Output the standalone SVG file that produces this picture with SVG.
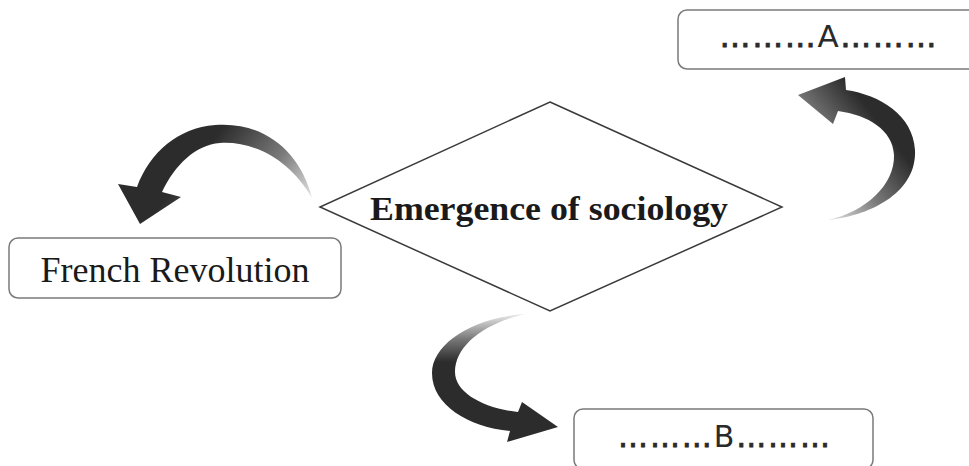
<svg xmlns="http://www.w3.org/2000/svg" width="969" height="466" viewBox="0 0 969 466">
  <style>
    .box { fill: #ffffff; stroke: #7a7a7a; stroke-width: 1.5; }
    .diamond { fill: #ffffff; stroke: #3a3a3a; stroke-width: 1.5; }
    .serif { font-family: "Liberation Serif", "Times New Roman", serif; fill: #1a1a1a; }
    .sans { font-family: "DejaVu Sans", "Liberation Sans", sans-serif; fill: #2a2a2a; }
    .dots { stroke: #2a2a2a; stroke-width: 0.9; }
  </style>
  <defs>
    <linearGradient id="gradLeft" gradientUnits="userSpaceOnUse" x1="312" y1="200" x2="222" y2="128">
      <stop offset="0" stop-color="#e6e6e6"/>
      <stop offset="0.45" stop-color="#7a7a7a"/>
      <stop offset="1" stop-color="#2c2c2c"/>
    </linearGradient>
    <linearGradient id="gradRight" gradientUnits="userSpaceOnUse" x1="828" y1="222" x2="908" y2="160">
      <stop offset="0" stop-color="#e6e6e6"/>
      <stop offset="0.5" stop-color="#7a7a7a"/>
      <stop offset="1" stop-color="#2c2c2c"/>
    </linearGradient>
    <linearGradient id="gradBottom" gradientUnits="userSpaceOnUse" x1="0" y1="315" x2="0" y2="362">
      <stop offset="0" stop-color="#e6e6e6"/>
      <stop offset="0.5" stop-color="#7a7a7a"/>
      <stop offset="1" stop-color="#2c2c2c"/>
    </linearGradient>
  </defs>

  <rect width="969" height="466" fill="#ffffff"/>

  <!-- curved block arrows -->
  <g id="connectors">
    <path d="M 312,198 C 300,150 262,121 215,125 C 178,128 150,152 137,187 L 118,184 L 140,224 L 181,197 L 162,192 C 175,165 195,145 220,143 C 255,141 290,160 312,198 Z" fill="url(#gradLeft)"/>
    <path d="M 828,220 C 875,215 917,190 915,150 C 913,115 880,95 846,90 L 845,77 L 798,95 L 833,124 L 838,111 C 868,115 893,130 894,155 C 895,185 865,212 828,220 Z" fill="url(#gradRight)"/>
    <path d="M 525,314 C 470,318 432,345 432,373 C 432,405 468,427 510,431 L 507,442 L 558,427 L 522,402 L 518,412 C 482,408 455,392 455,372 C 455,345 485,323 525,314 Z" fill="url(#gradBottom)"/>
  </g>

  <g id="node-emergence">
    <polygon class="diamond" points="550,102 782,207 550,311 320,207"/>
    <text class="serif" x="549" y="220" font-size="34" font-weight="bold" text-anchor="middle" textLength="358" lengthAdjust="spacingAndGlyphs">Emergence of sociology</text>
  </g>

  <g id="node-french-revolution">
    <rect class="box" x="9" y="238" width="332" height="60" rx="9"/>
    <text class="serif" x="175" y="282" font-size="36" text-anchor="middle">French Revolution</text>
  </g>

  <g id="node-a">
    <rect class="box" x="678" y="10" width="310" height="59" rx="9"/>
    <text class="sans" x="828" y="47" font-size="31" text-anchor="middle" textLength="217" lengthAdjust="spacing"><tspan class="dots">………</tspan>A<tspan class="dots">………</tspan></text>
  </g>

  <g id="node-b">
    <rect class="box" x="574" y="409" width="299" height="60" rx="9"/>
    <text class="sans" x="724" y="447" font-size="30" text-anchor="middle" textLength="212" lengthAdjust="spacing"><tspan class="dots">………</tspan>B<tspan class="dots">………</tspan></text>
  </g>
</svg>
